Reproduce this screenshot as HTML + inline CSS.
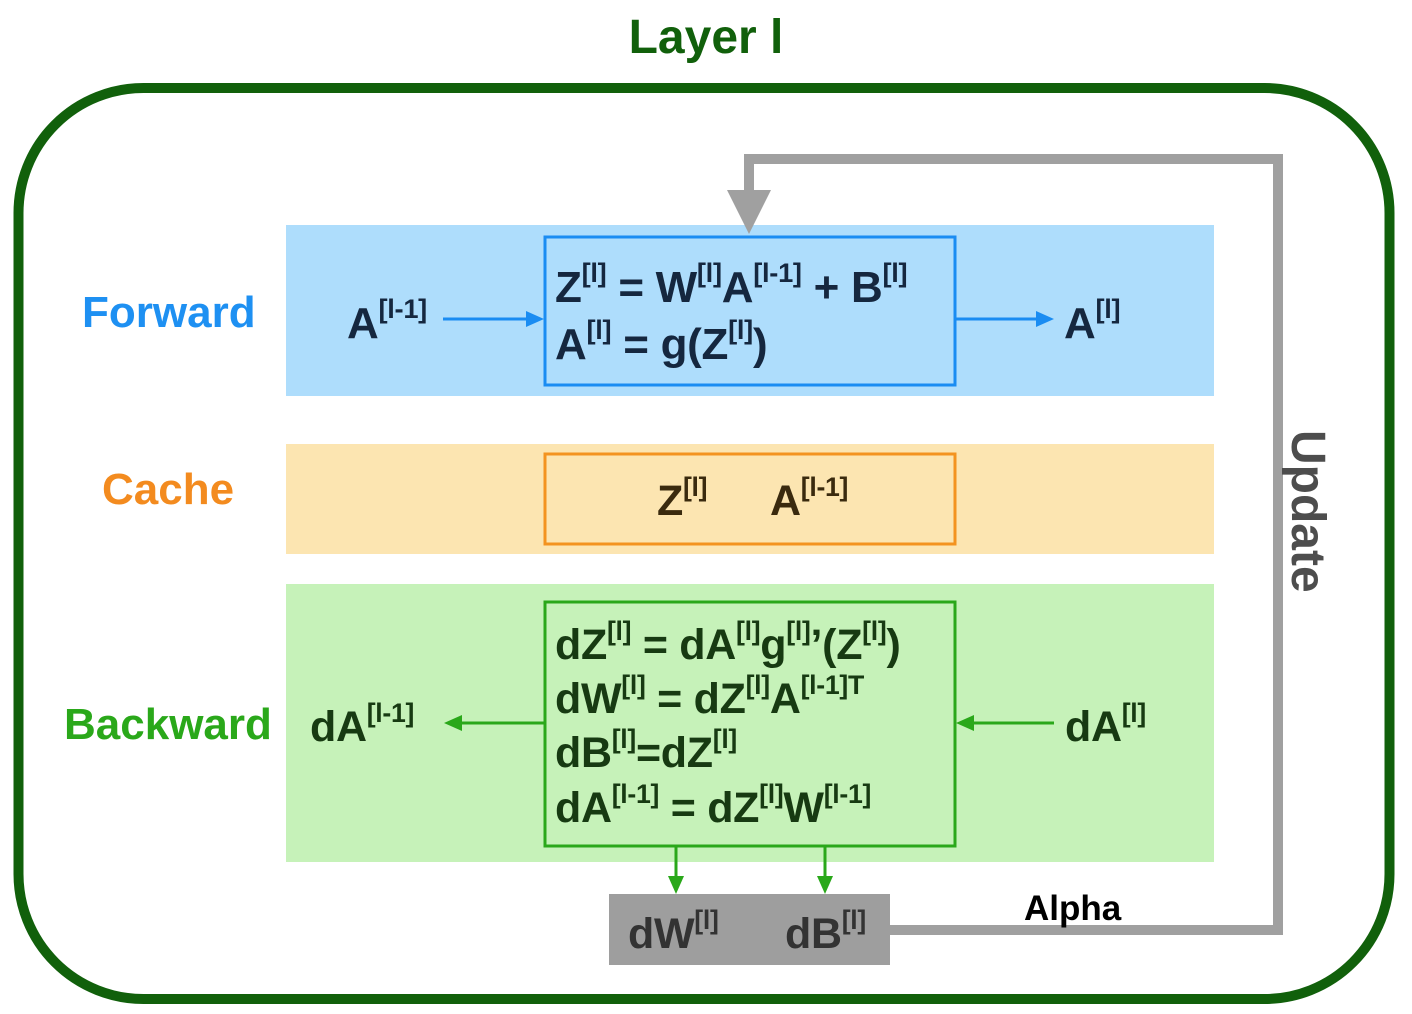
<!DOCTYPE html>
<html><head><meta charset="utf-8"><style>
html,body{margin:0;padding:0;width:1412px;height:1014px;background:#fff;overflow:hidden;position:relative;font-family:"Liberation Sans",Arial,sans-serif}
.a{position:absolute;white-space:nowrap;line-height:1}
sup{font-size:0.62em;vertical-align:0;position:relative;top:-0.72em;font-weight:bold}
.f{font-size:44px;color:#15273f;font-weight:bold}
.g{font-size:43px;color:#173a12;font-weight:bold}
.c{font-size:43px;color:#3a2a0e;font-weight:bold}
.k{font-size:43px;color:#333;font-weight:bold}
.f,.g,.c,.k{letter-spacing:-0.3px}
</style></head><body>
<svg width="1412" height="1014" style="position:absolute;left:0;top:0">
<rect x="18.5" y="88" width="1371" height="911" rx="125" fill="none" stroke="#11600b" stroke-width="10"/>
<rect x="286" y="225" width="928" height="171" fill="#aeddfc"/>
<rect x="286" y="444" width="928" height="110" fill="#fce5b1"/>
<rect x="286" y="584" width="928" height="278" fill="#c6f2b9"/>
<rect x="545" y="237" width="410" height="148" fill="none" stroke="#1a8cf2" stroke-width="3"/>
<rect x="545" y="454" width="410" height="90" fill="none" stroke="#f39320" stroke-width="3"/>
<rect x="545" y="602" width="410" height="244" fill="none" stroke="#2aa81a" stroke-width="3"/>
<rect x="609" y="894" width="281" height="71" fill="#9e9e9e"/>
<polyline points="890,930 1278,930 1278,159 749,159 749,205" fill="none" stroke="#a0a0a0" stroke-width="10"/>
<polygon points="727,190 771,190 749,234" fill="#a0a0a0"/>
<g stroke="#1a8cf2" stroke-width="3" fill="#1a8cf2">
<line x1="443" y1="319" x2="530" y2="319"/><polygon points="526,311 544,319 526,327" stroke="none"/>
<line x1="956" y1="319" x2="1040" y2="319"/><polygon points="1036,311 1054,319 1036,327" stroke="none"/>
</g>
<g stroke="#2aa81a" stroke-width="3" fill="#2aa81a">
<line x1="544" y1="723" x2="458" y2="723"/><polygon points="462,715 444,723 462,731" stroke="none"/>
<line x1="1054" y1="723" x2="970" y2="723"/><polygon points="974,715 956,723 974,731" stroke="none"/>
<line x1="676" y1="846" x2="676" y2="880"/><polygon points="668,876 684,876 676,894" stroke="none"/>
<line x1="825" y1="846" x2="825" y2="880"/><polygon points="817,876 833,876 825,894" stroke="none"/>
</g>
</svg>
<div class="a" style="left:0;width:1412px;text-align:center;top:14px;font-size:48px;font-weight:bold;color:#11600b">Layer l</div>
<div class="a" style="left:82px;top:291px;font-size:44px;color:#1e90f2;font-weight:bold">Forward</div>
<div class="a" style="left:102px;top:468px;font-size:44px;color:#f38b1f;font-weight:bold">Cache</div>
<div class="a" style="left:64px;top:703px;font-size:44px;color:#2aa81a;font-weight:bold">Backward</div>
<div class="a f" style="left:347px;top:302px">A<sup>[l-1]</sup></div>
<div class="a f" style="left:1064px;top:302px">A<sup>[l]</sup></div>
<div class="a f" style="left:555px;top:266px">Z<sup>[l]</sup> = W<sup>[l]</sup>A<sup>[l-1]</sup> + B<sup>[l]</sup></div>
<div class="a f" style="left:555px;top:323px">A<sup>[l]</sup> = g(Z<sup>[l]</sup>)</div>
<div class="a c" style="left:657px;top:480px">Z<sup>[l]</sup></div>
<div class="a c" style="left:770px;top:480px">A<sup>[l-1]</sup></div>
<div class="a g" style="left:555px;top:624px">dZ<sup>[l]</sup> = dA<sup>[l]</sup>g<sup>[l]</sup>’(Z<sup>[l]</sup>)</div>
<div class="a g" style="left:555px;top:678px">dW<sup>[l]</sup> = dZ<sup>[l]</sup>A<sup>[l-1]T</sup></div>
<div class="a g" style="left:555px;top:732px">dB<sup>[l]</sup>=dZ<sup>[l]</sup></div>
<div class="a g" style="left:555px;top:787px">dA<sup>[l-1]</sup> = dZ<sup>[l]</sup>W<sup>[l-1]</sup></div>
<div class="a g" style="left:310px;top:706px">dA<sup>[l-1]</sup></div>
<div class="a g" style="left:1065px;top:706px">dA<sup>[l]</sup></div>
<div class="a k" style="left:628px;top:913px">dW<sup>[l]</sup></div>
<div class="a k" style="left:785px;top:913px">dB<sup>[l]</sup></div>
<div class="a" style="left:1024px;top:891px;font-size:35px;font-weight:bold;color:#000">Alpha</div>
<div class="a" style="left:1331px;top:430px;transform-origin:0 0;transform:rotate(90deg);font-size:48px;font-weight:bold;color:#4d4d4d">Update</div>
</body></html>
